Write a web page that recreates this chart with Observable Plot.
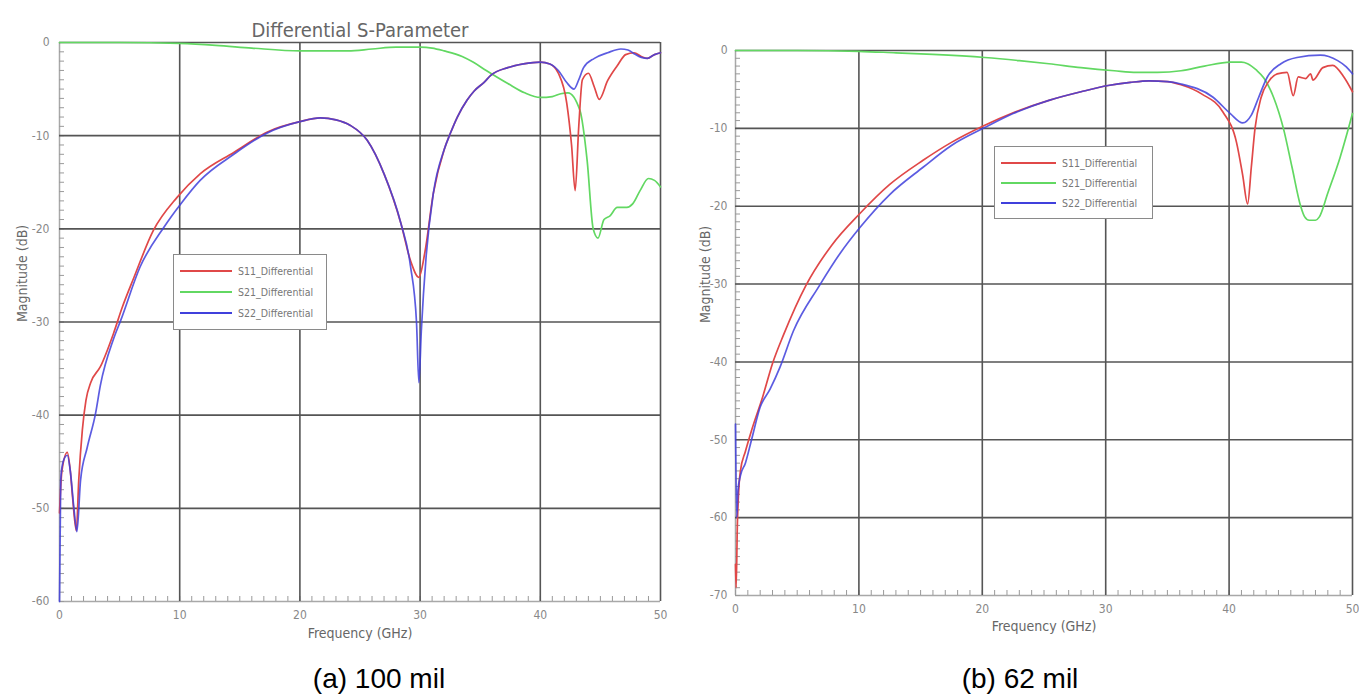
<!DOCTYPE html>
<html><head><meta charset="utf-8">
<script src="https://cdn.jsdelivr.net/npm/d3@7"></script>
<script src="https://cdn.jsdelivr.net/npm/@observablehq/plot@0.6"></script>
<style>
body{margin:0;background:#fff;}
#root{position:relative;width:1359px;height:698px;overflow:hidden;font-family:"DejaVu Sans Condensed","DejaVu Sans",sans-serif;}
.panel{position:absolute;top:0;}
.legend{position:absolute;border:1px solid #8a8a8a;background:#fff;box-sizing:border-box;}
.row{position:absolute;left:6px;height:12px;display:flex;align-items:center;font-size:10.5px;color:#777;white-space:nowrap;}
.row .sw{height:0;border-top:2px solid;margin-right:6px;}
.caption{position:absolute;font-family:"Liberation Sans",Arial,sans-serif;font-size:28px;color:#000;transform:translate(-50%,-50%);white-space:nowrap;line-height:1;}
</style></head><body><div id="root"></div>
<script>
// ---------- shared labels / ticks ----------
const chartTitle = "Differential S-Parameter";
const xLabel = "Frequency (GHz)";
const yLabel = "Magnitude (dB)";
const seriesNames = ["S11_Differential", "S21_Differential", "S22_Differential"];
const seriesColors = ["#e04848", "#62d862", "#4040dc"];
const xTicks = [0, 10, 20, 30, 40, 50];
const yTicksA = [0, -10, -20, -30, -40, -50, -60];
const yTicksB = [0, -10, -20, -30, -40, -50, -60, -70];
const captionA = "(a) 100 mil";
const captionB = "(b) 62 mil";

// ---------- (a) 100 mil : [GHz, dB] ----------
const a_S11 = [[0,-50.5],[0.2,-46],[0.65,-44],[0.9,-46],[1.1,-49],[1.4,-52.4],[1.6,-47],[1.9,-41.6],[2.2,-38.4],[2.6,-36.5],[3.4,-34.8],[4.5,-31.2],[5.2,-28.5],[6.2,-25.2],[7.8,-20.2],[9.8,-16.6],[11.7,-14.1],[14.5,-11.8],[17.3,-9.6],[20,-8.5],[21.7,-8.1],[23,-8.3],[24.2,-8.9],[25.6,-10.5],[27,-14.1],[28.4,-19.4],[29.2,-23.4],[29.9,-25.2],[30.4,-22.5],[31.1,-16.2],[32,-11.5],[32.5,-9.8],[33.1,-8],[33.9,-6.2],[34.5,-5.2],[35.3,-4.3],[35.9,-3.5],[37.3,-2.7],[38.6,-2.3],[40,-2.1],[40.8,-2.3],[41.5,-3.3],[42.2,-6.5],[42.6,-11],[42.9,-15.9],[43.2,-9],[43.5,-4],[44,-3.3],[44.5,-4.8],[44.9,-6.1],[45.6,-4.1],[46.4,-2.5],[47.1,-1.3],[47.8,-1.1],[48.4,-1.5],[48.9,-1.7],[49.5,-1.3],[50,-1.1]];
const a_S21 = [[0,0],[5,0],[10,-0.1],[13,-0.3],[16,-0.6],[20,-0.9],[24,-0.9],[26,-0.7],[28,-0.5],[30,-0.5],[31,-0.6],[32,-0.9],[33.5,-1.5],[34.4,-2.1],[35.5,-3],[37.3,-4.4],[38.7,-5.4],[40,-5.9],[41,-5.8],[41.7,-5.5],[42.3,-5.4],[43.3,-7.3],[43.9,-12.7],[44.4,-20],[44.8,-21],[45.3,-19],[45.8,-18.6],[46.4,-17.7],[47.2,-17.7],[47.7,-17.3],[48.3,-15.9],[49,-14.6],[49.5,-14.8],[50,-15.5]];
const a_S22 = [[0,-60],[0.1,-47],[0.3,-45],[0.65,-44.3],[0.9,-46],[1.2,-50],[1.45,-52.5],[1.75,-47],[2.3,-43.5],[3,-39.8],[3.4,-36.8],[4.5,-31.8],[5.1,-29.8],[6.7,-24.1],[8.7,-19.8],[10.1,-17.3],[11.7,-14.8],[14.5,-12],[17.3,-9.7],[20,-8.5],[21.7,-8.1],[23,-8.3],[24.2,-8.9],[25.6,-10.5],[27,-14.1],[28.4,-19.4],[29.2,-24],[29.7,-30],[29.9,-36.5],[30.1,-31],[30.5,-23],[31.1,-16.2],[32,-11.5],[32.5,-9.8],[33.1,-8],[33.9,-6.2],[34.5,-5.2],[35.3,-4.3],[35.9,-3.5],[37.3,-2.7],[38.6,-2.3],[40,-2.1],[40.8,-2.3],[41.5,-3],[42.2,-4.3],[42.8,-5],[43.2,-4],[43.6,-2.7],[44.5,-1.7],[45.6,-1.1],[46.7,-0.7],[47.3,-0.8],[47.8,-1.2],[48.4,-1.6],[48.9,-1.7],[49.5,-1.3],[50,-1.1]];

// ---------- (b) 62 mil : [GHz, dB] ----------
const b_S11 = [[0,-66],[0.05,-69],[0.15,-61],[0.3,-55.5],[0.4,-54],[0.8,-51.5],[1.3,-48.8],[2.2,-44.5],[3,-40.2],[3.9,-36.5],[5.7,-30.2],[7.8,-25],[10.1,-20.9],[12.5,-17.2],[15.2,-14.1],[17.5,-11.8],[20.2,-9.6],[22.5,-8],[25.4,-6.4],[28,-5.3],[30.2,-4.5],[32,-4.1],[33.5,-3.9],[35,-4],[36.1,-4.4],[37.8,-5.6],[39.5,-7.9],[40.6,-11.8],[41.1,-16],[41.5,-19.7],[41.8,-15],[42.1,-10],[42.6,-6],[43.2,-4],[43.9,-3],[44.7,-2.8],[45.2,-5.8],[45.6,-3.4],[46.2,-3.6],[46.6,-3],[46.8,-3.8],[47.6,-2.2],[48.4,-1.9],[49.3,-3.4],[50,-5.3]];
const b_S21 = [[0,0],[5,0],[10,-0.1],[13,-0.3],[16,-0.5],[20.2,-0.9],[23,-1.3],[25.4,-1.7],[28,-2.2],[30.7,-2.6],[32.5,-2.8],[34.2,-2.8],[36.1,-2.6],[38,-2],[40.1,-1.5],[41,-1.5],[41.5,-1.7],[42.2,-2.5],[42.8,-3.5],[43.6,-6],[44.4,-10],[45.1,-15],[45.8,-20],[46.1,-21.3],[46.5,-21.8],[47,-21.8],[47.3,-21.4],[48,-18.3],[49,-13.7],[50,-8.1]];
const b_S22 = [[0,-48],[0.1,-60],[0.2,-56.5],[0.4,-54.6],[0.8,-53],[1.3,-50],[2,-45.8],[2.8,-43.5],[3.6,-40.7],[4.7,-36],[6.8,-30.2],[8.5,-26],[10.1,-22.7],[12.5,-18.5],[15.2,-15],[17.5,-12.2],[20.2,-9.9],[22.5,-8.1],[25.4,-6.4],[28,-5.3],[30.2,-4.5],[32,-4.1],[33.5,-3.9],[35,-4],[36.1,-4.3],[38.7,-6],[40.1,-8.1],[41.1,-9.3],[41.8,-8.3],[42.4,-6],[43.1,-3.4],[44.2,-1.7],[45.5,-0.9],[47.4,-0.6],[48.8,-1.3],[49.5,-2.1],[50,-3]];

const FONT = '"DejaVu Sans Condensed","DejaVu Sans",sans-serif';

function makePanel(o) {
  const yMin = d3.min(o.yTicks);
  const xMax = d3.max(xTicks);
  const xMinor = d3.range(0, xMax + 1);
  const yMinor = d3.range(yMin, 1);
  const gridX = xTicks.filter(v => v !== 0);
  const gridY = o.yTicks.filter(v => v !== yMin);
  const series = [o.s11, o.s21, o.s22];
  const order = [1, 0, 2];
  const marks = [
    Plot.ruleX([0], {stroke: "#a8a8a8", strokeWidth: 1.5}),
    Plot.ruleY([yMin], {stroke: "#a8a8a8", strokeWidth: 1.5}),
    Plot.ruleX(xMinor, {y1: yMin, y2: yMin, insetTop: -5, stroke: "#9a9a9a"}),
    Plot.ruleY(yMinor, {x1: 0, x2: 0, insetRight: -5, stroke: "#9a9a9a"}),
    Plot.ruleX(gridX, {stroke: "#555", strokeWidth: 1.6}),
    Plot.ruleY(gridY, {stroke: "#555", strokeWidth: 1.6}),
    Plot.axisX({ticks: xTicks, tickSize: 0, tickPadding: 9, tickFormat: d => String(d), fontSize: 12, fill: "#888", label: null}),
    Plot.axisY({ticks: o.yTicks, tickSize: 0, tickPadding: o.yPad, tickFormat: d => String(d), fontSize: 12, fill: "#888", label: null}),
    ...order.map(i => Plot.line(series[i], {x: d => d[0], y: d => d[1], stroke: seriesColors[i], strokeWidth: 1.7, strokeOpacity: i === 2 ? 0.85 : 1, curve: "monotone-x"})),
    Plot.text([xLabel], {frameAnchor: "bottom", dy: o.xLabelDy, fontSize: 14, fill: "#666", fontFamily: FONT}),
    Plot.text([yLabel], {frameAnchor: "left", dx: o.yLabelDx, rotate: -90, fontSize: 14, fill: "#666", fontFamily: FONT})
  ];
  if (o.title) marks.push(Plot.text([o.title], {frameAnchor: "top", dy: -20, fontSize: 20, fill: "#666", fontFamily: FONT}));
  return Plot.plot({
    width: o.width, height: o.height,
    marginTop: o.mt, marginRight: o.mr, marginBottom: o.mb, marginLeft: o.ml,
    style: {background: "transparent", fontFamily: FONT, overflow: "visible"},
    x: {domain: [0, xMax]},
    y: {domain: [yMin, 0]},
    marks
  });
}

function makeLegend(root, box) {
  const lg = document.createElement("div");
  lg.className = "legend";
  Object.assign(lg.style, {left: box.left + "px", top: box.top + "px", width: box.width + "px", height: box.height + "px"});
  seriesNames.forEach((name, i) => {
    const row = document.createElement("div");
    row.className = "row";
    row.style.top = (box.rows[i] - box.top - 7) + "px";
    const sw = document.createElement("span");
    sw.className = "sw";
    sw.style.borderTopColor = seriesColors[i];
    sw.style.width = box.sw + "px";
    row.appendChild(sw);
    const t = document.createElement("span");
    t.textContent = name;
    row.appendChild(t);
    lg.appendChild(row);
  });
  root.appendChild(lg);
}

const root = document.getElementById("root");

const pa = makePanel({width: 680, height: 660, mt: 42, mr: 20, mb: 59, ml: 59, yTicks: yTicksA, s11: a_S11, s21: a_S21, s22: a_S22, title: chartTitle, xLabelDy: 36, yLabelDx: -37, yPad: 10});
pa.classList.add("panel"); pa.style.left = "0px";
root.appendChild(pa);

const pb = makePanel({width: 679, height: 660, mt: 50, mr: 7, mb: 65, ml: 55, yTicks: yTicksB, s11: b_S11, s21: b_S21, s22: b_S22, title: null, xLabelDy: 35, yLabelDx: -30, yPad: 8});
pb.classList.add("panel"); pb.style.left = "680px";
root.appendChild(pb);

makeLegend(root, {left: 173, top: 254, width: 154, height: 76, rows: [271, 292, 313], sw: 52});
makeLegend(root, {left: 994, top: 146, width: 159, height: 73, rows: [163, 183, 203], sw: 55});

[[captionA, 379], [captionB, 1020]].forEach(([txt, cx]) => {
  const c = document.createElement("div");
  c.className = "caption";
  c.textContent = txt;
  c.style.left = cx + "px";
  c.style.top = "679px";
  root.appendChild(c);
});
</script></body></html>
